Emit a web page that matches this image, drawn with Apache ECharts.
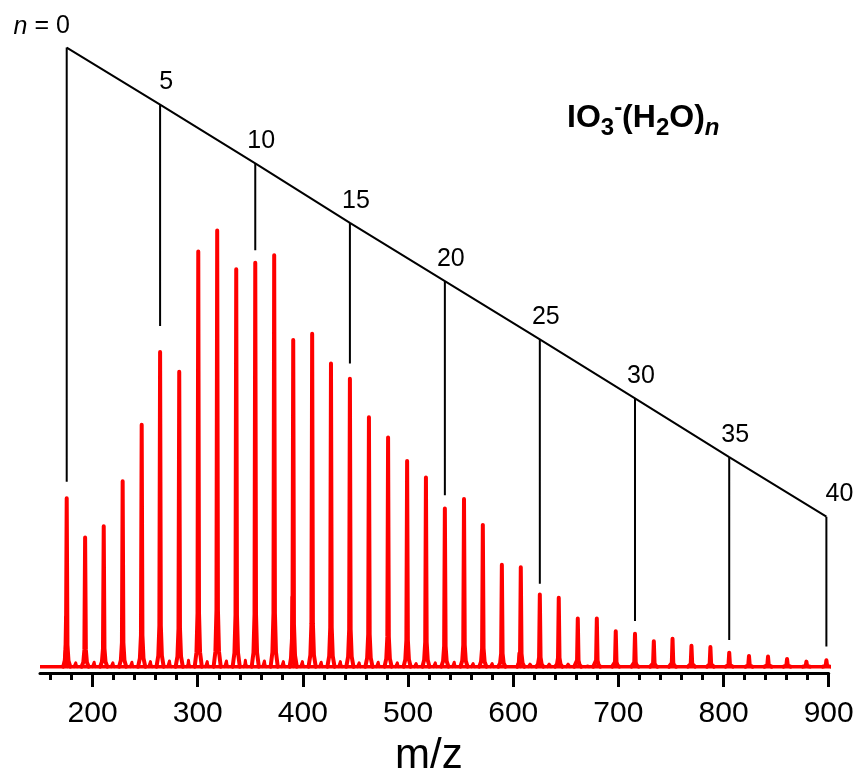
<!DOCTYPE html>
<html>
<head>
<meta charset="utf-8">
<script src="https://cdn.jsdelivr.net/npm/echarts@6/dist/echarts.min.js"></script>
<style>
  html, body { margin: 0; padding: 0; background: #ffffff; }
  #chart { width: 861px; height: 782px; }
</style>
</head>
<body>
<div id="chart"></div>
<script>
// Mass spectrum of IO3-(H2O)n cluster anions

// cluster size n of each peak
const clusterN = [0, 1, 2, 3, 4, 5, 6, 7, 8, 9, 10, 11, 12, 13, 14, 15, 16, 17, 18, 19, 20,
                  21, 22, 23, 24, 25, 26, 27, 28, 29, 30, 31, 32, 33, 34, 35, 36, 37, 38, 39, 40];
// peak positions (m/z)
const peakMz = [175.4, 192.9, 210.6, 228.6, 246.7, 264.2, 282.4, 300.5, 318.5, 336.6,
                354.7, 372.7, 390.8, 408.8, 426.7, 444.7, 462.8, 481.0, 499.1, 517.0,
                535.0, 553.2, 571.1, 589.2, 607.2, 625.3, 643.3, 661.4, 679.5, 697.5,
                715.8, 733.7, 751.5, 769.5, 787.5, 805.4, 824.2, 842.3, 860.4, 878.8, 897.8];
// peak intensities (arb. units)
const peakIntensity = [27.6, 21.4, 23.2, 30.3, 39.2, 50.7, 47.6, 66.6, 69.9, 63.8,
                       64.8, 66.0, 52.6, 53.6, 48.9, 46.5, 40.4, 37.2, 33.5, 30.9,
                       26.0, 27.5, 23.4, 17.1, 16.7, 12.4, 11.9, 8.6, 8.6, 6.6,
                       6.2, 5.0, 5.4, 4.3, 4.1, 3.2, 2.7, 2.6, 2.2, 1.8, 2.0];
// weak side features (shoulders and small satellite peaks)
const sideMz = [174.3, 184.0, 201.5, 219.3, 237.4, 255.0, 273.1, 291.2, 309.0, 327.3, 345.3,
                363.4, 381.4, 389.6, 399.5, 417.4, 435.6, 453.5, 471.6, 489.8, 507.7, 525.9,
                543.9, 561.9, 580.0, 605.4, 616.0, 634.2, 652.2, 670.5];
const sideIntensity = [8.8, 1.6, 1.7, 1.6, 1.7, 1.8, 1.9, 2.0, 1.8, 1.9, 2.0,
                       1.9, 1.8, 12.0, 1.8, 1.7, 1.8, 1.6, 1.7, 1.6, 1.5, 1.6,
                       1.7, 1.5, 1.5, 3.1, 1.4, 1.4, 1.4, 1.3];
const baselineLevel = 1.0;

// ladder marking every fifth cluster size
const ladderN = [0, 5, 10, 15, 20, 25, 30, 35, 40];
const ladderTop = [98.8, 89.8, 80.5, 71.1, 61.9, 52.7, 43.4, 34.1, 24.7];
const ladderBottom = [30.2, 54.8, 66.8, 48.9, 28.1, 14.1, 8.2, 5.2, 4.2];

// axis ticks
const xMajorTicks = [200, 300, 400, 500, 600, 700, 800, 900];
const xMinorTicks = [160, 180, 220, 240, 260, 280, 320, 340, 360, 380, 420, 440, 460, 480,
                     520, 540, 560, 580, 620, 640, 660, 680, 720, 740, 760, 780,
                     820, 840, 860, 880];
const xRange = [150, 900];

// line profile of one peak: [m/z offset, fraction of height above baseline]
const profile = [[-3.4, 0], [-1.7, 0.035], [-0.7, 0.13], [0, 1], [0.7, 0.13], [1.7, 0.035], [3.4, 0]];
const sideProfile = [[-1.6, 0], [-0.5, 0.35], [0, 1], [0.5, 0.35], [1.6, 0]];

function peakTrace(mzs, heights, shape) {
  const out = [];
  mzs.forEach((mz, i) => {
    const h = heights[i] - baselineLevel;
    shape.forEach(([dx, f]) => out.push([mz + dx, baselineLevel + f * h]));
    out.push([mz, '-']);
  });
  return out;
}

const traceData = peakTrace(peakMz, peakIntensity, profile);
const sideData = peakTrace(sideMz, sideIntensity, sideProfile);
const baselineData = [[xRange[0], baselineLevel], [xRange[1], baselineLevel]];

const ladderMz = ladderN.map(n => peakMz[clusterN.indexOf(n)]);
const rungData = [];
ladderMz.forEach((mz, i) => {
  rungData.push([mz, ladderTop[i]], [mz, ladderBottom[i]], [mz, '-']);
});
const railData = ladderMz.map((mz, i) => [mz, ladderTop[i]]);

const FONT = 'Liberation Sans, Arial, sans-serif';
const red = '#ff0000';

// label offsets for the ladder numbers
const labelOffsets = { 0: [-25, -3], 40: [13, -5] };
const ladderLabelData = ladderMz.map((mz, i) => {
  const n = ladderN[i];
  return {
    value: [mz, ladderTop[i]],
    label: {
      offset: labelOffsets[n] || [6, -4],
      formatter: n === 0 ? '{i|n}{t| = 0}' : '{t|' + n + '}'
    }
  };
});

const chart = echarts.init(document.getElementById('chart'), null, { renderer: 'canvas' });
chart.setOption({
  backgroundColor: '#ffffff',
  animation: false,
  title: {
    text: '{b|IO}{sub|3}{sup|-}{b|(H}{sub|2}{b|O)}{subi|n}',
    left: 567,
    top: 96,
    padding: 0,
    textStyle: {
      rich: {
        b: { fontFamily: FONT, fontSize: 32, fontWeight: 'bold', color: '#000', lineHeight: 44, verticalAlign: 'middle' },
        sub: { fontFamily: FONT, fontSize: 24, fontWeight: 'bold', color: '#000', lineHeight: 22, verticalAlign: 'bottom' },
        subi: { fontFamily: FONT, fontSize: 24, fontWeight: 'bold', fontStyle: 'italic', color: '#000', lineHeight: 22, verticalAlign: 'bottom' },
        sup: { fontFamily: FONT, fontSize: 24, fontWeight: 'bold', color: '#000', lineHeight: 24, verticalAlign: 'top' }
      }
    }
  },
  grid: { left: 40, right: 32.3, top: 40, bottom: 102 },
  xAxis: [{
    type: 'value',
    min: xRange[0],
    max: xRange[1],
    name: 'm/z',
    nameLocation: 'middle',
    nameGap: 62,
    nameTextStyle: { fontFamily: FONT, fontSize: 42, color: '#000', padding: [0, 11, 0, 0] },
    axisLine: { show: true, lineStyle: { color: '#000', width: 3 } },
    axisTick: { show: true, customValues: xMajorTicks, length: 14, lineStyle: { color: '#000', width: 3 } },
    axisLabel: { show: true, customValues: xMajorTicks, margin: 26, fontFamily: FONT, fontSize: 30, color: '#000' },
    splitLine: { show: false }
  }, {
    type: 'value',
    min: xRange[0],
    max: xRange[1],
    position: 'bottom',
    axisLine: { show: false },
    axisTick: { show: true, customValues: xMinorTicks, length: 7, lineStyle: { color: '#000', width: 3 } },
    axisLabel: { show: false },
    splitLine: { show: false }
  }],
  yAxis: { type: 'value', min: 0, max: 100, show: false },
  series: [
    {
      name: 'baseline', type: 'line', xAxisIndex: 0, data: baselineData, showSymbol: false, silent: true,
      lineStyle: { color: red, width: 3.5 }, z: 2
    },
    {
      name: 'side peaks', type: 'line', xAxisIndex: 0, data: sideData, showSymbol: false, silent: true,
      connectNulls: false, lineStyle: { color: red, width: 3, join: 'round', cap: 'round' }, z: 2
    },
    {
      name: 'IO3-(H2O)n', type: 'line', xAxisIndex: 0, data: traceData, showSymbol: false, silent: true,
      connectNulls: false, lineStyle: { color: red, width: 4, join: 'round', cap: 'round' }, z: 3
    },
    {
      name: 'rungs', type: 'line', xAxisIndex: 0, data: rungData, showSymbol: false, silent: true,
      connectNulls: false, lineStyle: { color: '#000', width: 2 }, z: 4
    },
    {
      name: 'rail', type: 'line', xAxisIndex: 0, data: railData, showSymbol: false, silent: true,
      lineStyle: { color: '#000', width: 2 }, z: 4
    },
    {
      name: 'ladder labels', type: 'scatter', xAxisIndex: 0, data: ladderLabelData, silent: true,
      symbol: 'circle', symbolSize: 1, itemStyle: { color: 'rgba(0,0,0,0)', opacity: 1 }, z: 5,
      label: {
        show: true, position: 'top', distance: 5,
        rich: {
          t: { fontFamily: FONT, fontSize: 25, color: '#000000' },
          i: { fontFamily: FONT, fontSize: 25, fontStyle: 'italic', color: '#000000' }
        }
      }
    }
  ]
});
</script>
</body>
</html>
